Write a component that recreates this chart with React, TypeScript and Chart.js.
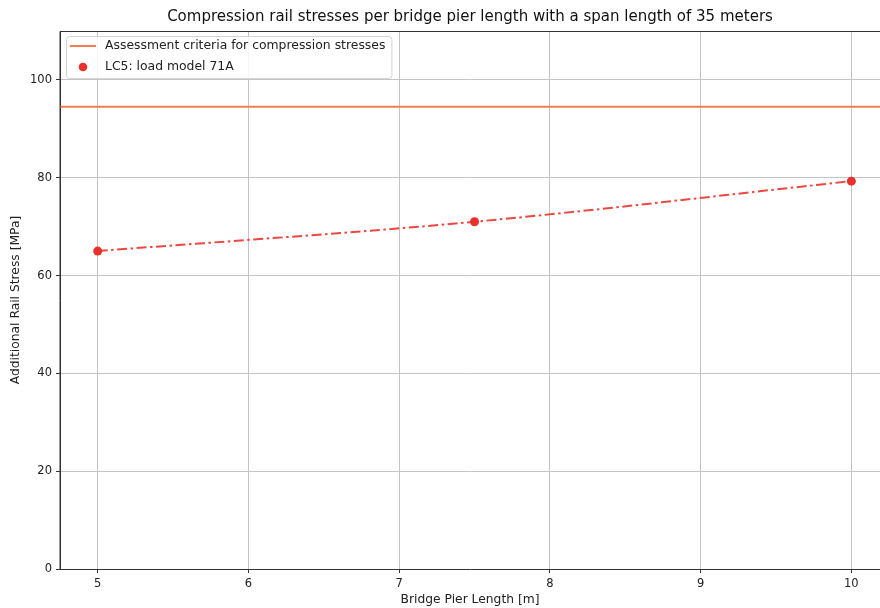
import React, { useEffect, useRef } from "react";
import { Chart, registerables } from "chart.js";

Chart.register(...registerables);

const pierLengths = [5, 7.5, 10];
const lc5Stress = [65.0, 71.0, 79.3];
const criteriaValue = 94.5;
const xLimits = [4.75, 10.19];
const yLimits = [0, 110];
const xTicks = [5, 6, 7, 8, 9, 10];
const yTicks = [0, 20, 40, 60, 80, 100];

const titleText = "Compression rail stresses per bridge pier length with a span length of 35 meters";
const xTitle = "Bridge Pier Length [m]";
const yTitle = "Additional Rail Stress [MPa]";
const criteriaLabel = "Assessment criteria for compression stresses";
const lc5Label = "LC5: load model 71A";

const FONT = "'DejaVu Sans', sans-serif";
const ORANGE = "#f07f4f";
const RED = "#e8312a";

const frameAndLegend = {
  id: "frameAndLegend",
  afterDraw(chart: any) {
    const { ctx, chartArea } = chart;
    ctx.save();
    ctx.strokeStyle = "#333";
    ctx.lineWidth = 1;
    ctx.beginPath();
    ctx.moveTo(chartArea.left, chartArea.bottom);
    ctx.lineTo(chartArea.left, chartArea.top + 0.5);
    ctx.lineTo(chartArea.right, chartArea.top + 0.5);
    ctx.stroke();

    // legend
    const ds = chart.data.datasets;
    ctx.font = `12.4px ${FONT}`;
    const textW = Math.max(
      ctx.measureText(ds[0].label).width,
      ctx.measureText(ds[1].label).width
    );
    const bx = chartArea.left + 6;
    const by = chartArea.top + 5;
    const bw = 39 + textW + 6;
    const bh = 42;
    ctx.fillStyle = "rgba(255,255,255,0.85)";
    ctx.strokeStyle = "#d4d4d4";
    ctx.beginPath();
    (ctx as any).roundRect(bx + 0.5, by + 0.5, bw, bh, 3);
    ctx.fill();
    ctx.stroke();

    const y1 = by + 10;
    const y2 = by + 31;
    ctx.strokeStyle = ds[0].borderColor;
    ctx.lineWidth = 2;
    ctx.beginPath();
    ctx.moveTo(bx + 4, y1);
    ctx.lineTo(bx + 30, y1);
    ctx.stroke();
    ctx.fillStyle = ds[1].pointBackgroundColor;
    ctx.beginPath();
    ctx.arc(bx + 17, y2, 4.3, 0, Math.PI * 2);
    ctx.fill();

    ctx.fillStyle = "#222";
    ctx.textBaseline = "middle";
    ctx.textAlign = "left";
    ctx.fillText(ds[0].label, bx + 39, y1);
    ctx.fillText(ds[1].label, bx + 39, y2);
    ctx.restore();
  },
};

export default function App() {
  const ref = useRef<HTMLCanvasElement | null>(null);

  useEffect(() => {
    if (!ref.current) return;
    const chart = new Chart(ref.current, {
      type: "line",
      data: {
        datasets: [
          {
            label: criteriaLabel,
            data: [
              { x: xLimits[0], y: criteriaValue },
              { x: xLimits[1], y: criteriaValue },
            ],
            borderColor: ORANGE,
            borderWidth: 2,
            pointRadius: 0,
            tension: 0,
          },
          {
            label: lc5Label,
            data: pierLengths.map((x, i) => ({ x, y: lc5Stress[i] })),
            borderColor: "rgba(234,56,48,0.92)",
            borderWidth: 2,
            borderDash: [10, 3.5, 2.5, 3.5],
            pointRadius: 4.5,
            pointBackgroundColor: RED,
            pointBorderColor: RED,
            pointBorderWidth: 0,
            cubicInterpolationMode: "monotone",
          },
        ],
      },
      options: {
        animation: false,
        responsive: true,
        maintainAspectRatio: false,
        layout: { padding: 0, autoPadding: false },
        plugins: {
          legend: { display: false },
          tooltip: { enabled: false },
          title: {
            display: true,
            text: titleText,
            fullSize: false,
            color: "#111",
            font: { family: FONT, size: 15, weight: "normal" },
            padding: { top: 8, bottom: 5 },
          },
        },
        scales: {
          x: {
            type: "linear",
            min: xLimits[0],
            max: xLimits[1],
            afterBuildTicks: (s: any) => {
              s.ticks = xTicks.map((v) => ({ value: v }));
            },
            afterFit: (s: any) => {
              s.height = 39;
              s.paddingLeft = 0;
              s.paddingRight = 0;
            },
            grid: { color: "#c4c4c4", tickColor: "#333", tickLength: 4, lineWidth: 1 },
            border: { color: "#333", width: 1 },
            ticks: {
              color: "#222",
              font: { family: FONT, size: 11.5 },
              padding: 4,
              maxRotation: 0,
            },
            title: {
              display: true,
              text: xTitle,
              color: "#222",
              font: { family: FONT, size: 12.3 },
              padding: { top: 0, bottom: 1 },
            },
          },
          y: {
            type: "linear",
            min: yLimits[0],
            max: yLimits[1],
            afterBuildTicks: (s: any) => {
              s.ticks = yTicks.map((v) => ({ value: v }));
            },
            afterFit: (s: any) => {
              s.width = 60;
              s.paddingTop = 0;
              s.paddingBottom = 0;
            },
            grid: { color: "#c4c4c4", tickColor: "#333", tickLength: 4, lineWidth: 1 },
            border: { color: "#333", width: 1 },
            ticks: {
              color: "#222",
              font: { family: FONT, size: 11.5 },
              padding: 4,
            },
            title: {
              display: true,
              text: yTitle,
              color: "#222",
              font: { family: FONT, size: 12.3 },
              padding: { top: 8, bottom: 0 },
            },
          },
        },
      },
      plugins: [frameAndLegend],
    } as any);
    return () => chart.destroy();
  }, []);

  return (
    <div style={{ position: "fixed", left: 0, top: 0, width: 880, height: 608, background: "#fff" }}>
      <canvas ref={ref} />
    </div>
  );
}
